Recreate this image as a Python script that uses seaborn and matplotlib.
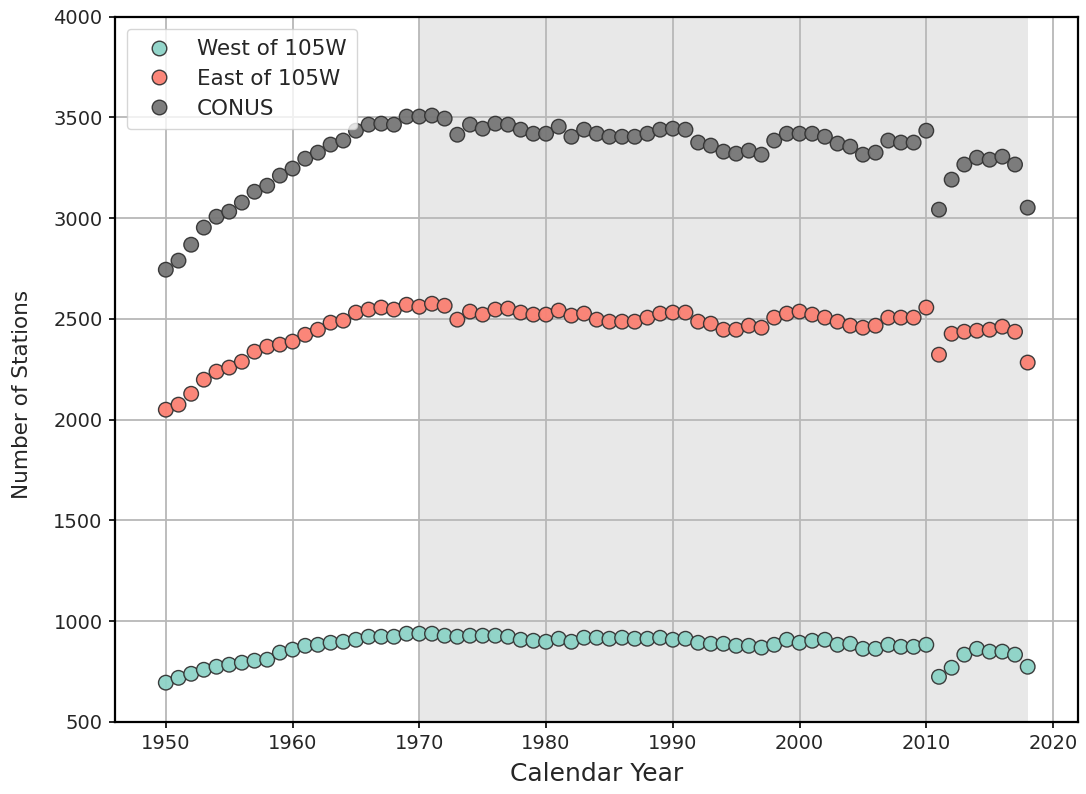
import numpy as np
import pandas as pd
import matplotlib
matplotlib.use("Agg")
import matplotlib.pyplot as plt
import seaborn as sns

years = list(range(1950, 2019))

west = [694, 718, 738, 758, 773, 783, 793, 803, 808, 843,
        858, 877, 882, 892, 897, 907, 922, 922, 922, 937,
        937, 937, 927, 922, 927, 927, 927, 922, 907, 902,
        897, 912, 897, 917, 917, 912, 917, 912, 912, 917,
        907, 912, 892, 887, 887, 877, 877, 868, 882, 907,
        892, 902, 907, 882, 887, 862, 862, 882, 872, 872,
        882, 723, 768, 833, 862, 848, 848, 833, 773]

east = [2049, 2074, 2128, 2198, 2238, 2258, 2287, 2337, 2362, 2372,
        2387, 2421, 2446, 2481, 2491, 2531, 2546, 2556, 2546, 2570,
        2560, 2575, 2565, 2496, 2536, 2521, 2546, 2551, 2531, 2521,
        2521, 2541, 2516, 2526, 2496, 2486, 2486, 2486, 2506, 2526,
        2531, 2531, 2486, 2476, 2446, 2446, 2466, 2456, 2506, 2526,
        2536, 2521, 2506, 2486, 2466, 2456, 2466, 2506, 2506, 2506,
        2556, 2322, 2426, 2436, 2441, 2446, 2461, 2436, 2283]

conus = [2744, 2789, 2868, 2953, 3007, 3032, 3077, 3131, 3161, 3211,
         3246, 3295, 3325, 3365, 3385, 3434, 3464, 3469, 3464, 3504,
         3504, 3509, 3494, 3414, 3464, 3444, 3469, 3464, 3439, 3419,
         3419, 3454, 3404, 3439, 3419, 3404, 3404, 3404, 3419, 3439,
         3444, 3439, 3375, 3360, 3330, 3320, 3335, 3315, 3385, 3419,
         3419, 3419, 3404, 3370, 3355, 3315, 3325, 3385, 3375, 3375,
         3434, 3042, 3191, 3266, 3300, 3290, 3305, 3266, 3052]

region_names = ["West of 105W", "East of 105W", "CONUS"]
region_colors = ["#8dd3c7", "#fb8072", "#767676"]
period_start, period_end = 1970, 2018

frames = []
for name, vals in zip(region_names, [west, east, conus]):
    frames.append(pd.DataFrame({"year": years, "stations": vals, "region": name}))
df = pd.concat(frames, ignore_index=True)

sns.set_style("whitegrid", {"grid.color": "#b8b8b8", "axes.edgecolor": "black"})
plt.rcParams["font.family"] = ["DejaVu Sans"]

fig = plt.figure(figsize=(10.86, 7.94), dpi=100)
ax = fig.add_axes([0.106, 0.091, 0.887, 0.888])

# shaded reference period
ax.axvspan(period_start, period_end, color="#e8e8e8", zorder=0, lw=0)

sns.scatterplot(data=df, x="year", y="stations", hue="region",
                hue_order=region_names, palette=region_colors,
                s=110, edgecolor="#333333", linewidth=1.0, alpha=0.95,
                ax=ax, zorder=3)

ax.set_xlim(1946, 2022)
ax.set_ylim(500, 4000)
ax.set_xticks(range(1950, 2021, 10))
ax.set_yticks(range(500, 4001, 500))
ax.tick_params(axis="both", labelsize=14, length=4, width=1.2, color="black",
               direction="out", bottom=True, left=True, pad=5)
ax.set_xlabel("Calendar Year", fontsize=18, labelpad=6)
ax.set_ylabel("Number of Stations", fontsize=15.5)
ax.yaxis.set_label_coords(-0.086, 0.464)
ax.grid(True, color="#b8b8b8", lw=1.3, zorder=1)
ax.set_axisbelow(True)
for sp in ax.spines.values():
    sp.set_color("black")
    sp.set_linewidth(1.6)

leg = ax.legend(loc="upper left", fontsize=15.5, frameon=True, markerscale=1.0,
                borderpad=0.5, labelspacing=0.45, handletextpad=0.75,
                borderaxespad=0.55)
leg.get_frame().set_edgecolor("#cccccc")
leg.get_frame().set_alpha(0.8)

fig.savefig("out.png", dpi=100)
